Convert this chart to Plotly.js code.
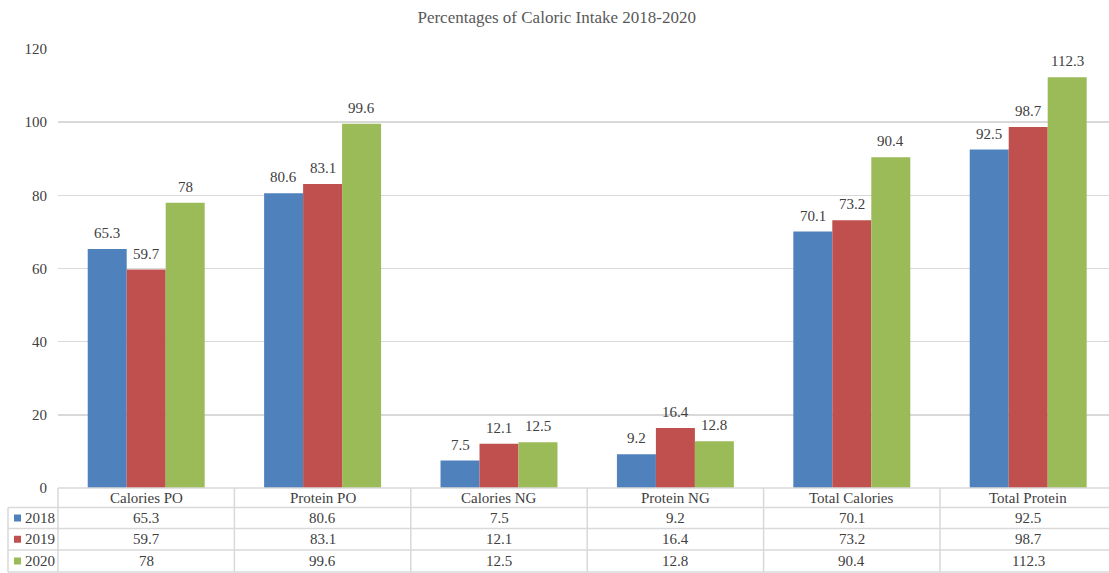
<!DOCTYPE html>
<html>
<head>
<meta charset="utf-8">
<script src="https://cdn.plot.ly/plotly-3.0.1.min.js"></script>
<style>html,body{margin:0;padding:0;background:#fff;}#chart{width:1109px;height:573px;}</style>
</head>
<body>
<div id="chart"></div>
<script>
const categories = ["Calories PO", "Protein PO", "Calories NG", "Protein NG", "Total Calories", "Total Protein"];
const seriesNames = ["2018", "2019", "2020"];
const values2018 = [65.3, 80.6, 7.5, 9.2, 70.1, 92.5];
const values2019 = [59.7, 83.1, 12.1, 16.4, 73.2, 98.7];
const values2020 = [78, 99.6, 12.5, 12.8, 90.4, 112.3];
const colors = ["#4F81BD", "#C0504D", "#9BBB59"];
const yTicks = [0, 20, 40, 60, 80, 100, 120];

const allValues = [values2018, values2019, values2020];
const W = 1109, H = 573;
const L = 58, T = 49, B = 85;
const plotW = 1051, plotH = H - T - B;
const catW = 176.4;
const FONT = "Liberation Serif";
const TXT = "#404040";
const LINE = "#d9d9d9";
const BARGAP = 0.337;
const barW = (1 - BARGAP) / allValues.length;

const traces = allValues.map((vals, i) => ({
  type: "bar",
  name: seriesNames[i],
  x: categories.map((c, k) => k),
  y: vals,
  marker: {color: colors[i]},
  hoverinfo: "none"
}));

const px = x => (x - L) / plotW;
const py = y => (H - B - y) / plotH;

const shapes = [];
const annotations = [];

// data labels above bars
allValues.forEach((vals, i) => {
  vals.forEach((v, k) => {
    annotations.push({xref: "x", yref: "y", x: k + (i - (allValues.length - 1) / 2) * barW, y: v, yshift: 6, text: String(v), showarrow: false, xanchor: "center", yanchor: "bottom", font: {family: FONT, size: 15, color: TXT}});
  });
});

const rowY = [488, 507.5, 528.5, 550, 572];
shapes.push({type: "line", xref: "paper", yref: "paper", x0: px(L), x1: px(W), y0: py(rowY[0]), y1: py(rowY[0]), line: {color: LINE, width: 1.5}});
for (let r = 1; r < rowY.length; r++) {
  shapes.push({type: "line", xref: "paper", yref: "paper", x0: px(8), x1: px(W), y0: py(rowY[r]), y1: py(rowY[r]), line: {color: LINE, width: 1.5}});
}
shapes.push({type: "line", xref: "paper", yref: "paper", x0: px(8), x1: px(8), y0: py(rowY[1]), y1: py(rowY[4]), line: {color: LINE, width: 1.5}});
for (let k = 0; k < categories.length; k++) {
  const xb = L + k * catW;
  shapes.push({type: "line", xref: "paper", yref: "paper", x0: px(xb), x1: px(xb), y0: py(rowY[0]), y1: py(rowY[4]), line: {color: LINE, width: 1.5}});
}
categories.forEach((c, k) => {
  annotations.push({xref: "paper", yref: "paper", x: px(L + (k + 0.5) * catW), y: py((rowY[0] + rowY[1]) / 2), text: c, showarrow: false, xanchor: "center", yanchor: "middle", font: {family: FONT, size: 15, color: TXT}});
});
allValues.forEach((vals, i) => {
  const yc = (rowY[i + 1] + rowY[i + 2]) / 2;
  shapes.push({type: "rect", xref: "paper", yref: "paper", x0: px(14), x1: px(21), y0: py(yc - 3.5), y1: py(yc + 3.5), fillcolor: colors[i], line: {width: 0}});
  annotations.push({xref: "paper", yref: "paper", x: px(23), y: py(yc), text: seriesNames[i], showarrow: false, xanchor: "left", yanchor: "middle", font: {family: FONT, size: 15, color: TXT}});
  vals.forEach((v, k) => {
    annotations.push({xref: "paper", yref: "paper", x: px(L + (k + 0.5) * catW), y: py(yc), text: String(v), showarrow: false, xanchor: "center", yanchor: "middle", font: {family: FONT, size: 15, color: TXT}});
  });
});

const layout = {
  width: W, height: H,
  margin: {l: L, r: 0, t: T, b: B, pad: 0},
  paper_bgcolor: "#fff", plot_bgcolor: "#fff",
  title: {text: "Percentages of Caloric Intake 2018-2020", x: 0.502, xref: "container", xanchor: "center", y: 1 - 17 / H, yanchor: "middle", font: {family: FONT, size: 17, color: "#595959"}},
  font: {family: FONT, color: TXT},
  showlegend: false,
  barmode: "group",
  bargap: BARGAP,
  bargroupgap: 0,
  xaxis: {range: [-0.5, -0.5 + plotW / catW], showticklabels: false, showgrid: false, zeroline: false, showline: false, ticks: "", fixedrange: true},
  yaxis: {range: [0, 120], tickvals: yTicks, ticktext: yTicks.map(String), showgrid: true, gridcolor: LINE, gridwidth: 1.5, zeroline: false, showline: false, ticks: "", ticklabelstandoff: 10, tickfont: {family: FONT, size: 15, color: TXT}, fixedrange: true},
  shapes: shapes,
  annotations: annotations
};

Plotly.newPlot("chart", traces, layout, {displayModeBar: false, staticPlot: true});
</script>
</body>
</html>
